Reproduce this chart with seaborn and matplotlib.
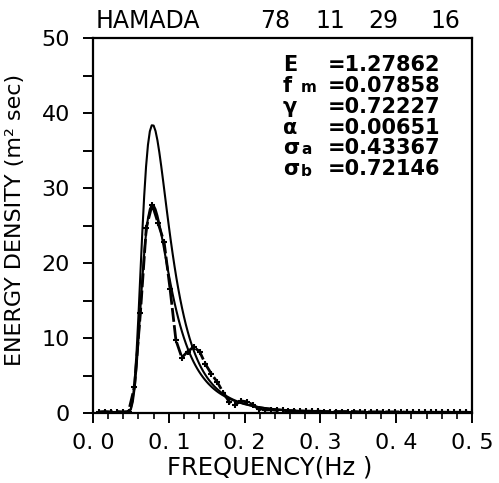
import numpy as np
import pandas as pd
import matplotlib
matplotlib.use("Agg")
import matplotlib.pyplot as plt
from matplotlib.ticker import MultipleLocator
import seaborn as sns

# observed spectrum (df = 1/128 Hz)
freq_obs = [0.0078, 0.0156, 0.0234, 0.0313, 0.0391, 0.0469, 0.0547, 0.0625,
            0.0703, 0.0781, 0.0859, 0.0938, 0.1016, 0.1094, 0.1172, 0.1250,
            0.1328, 0.1406, 0.1484, 0.1563, 0.1641, 0.1719, 0.1797, 0.1875,
            0.1953, 0.2031, 0.2109, 0.2188, 0.2266, 0.2344, 0.2422, 0.2500,
            0.2578, 0.2656, 0.2734, 0.2813, 0.2891, 0.2969, 0.3047, 0.3125,
            0.3203, 0.3281, 0.3359, 0.3438, 0.3516, 0.3594, 0.3672, 0.3750,
            0.3828, 0.3906, 0.3984, 0.4063, 0.4141, 0.4219, 0.4297, 0.4375,
            0.4453, 0.4531, 0.4609, 0.4688, 0.4766, 0.4844, 0.4922, 0.5000]
energy_obs = [0.15, 0.2, 0.15, 0.2, 0.15, 0.2, 3.5, 13.3, 24.7, 27.8,
              25.3, 22.8, 16.6, 9.7, 7.4, 8.2, 8.8, 8.2, 6.5, 5.2,
              4.1, 2.7, 1.5, 1.1, 1.6, 1.5, 1.1, 0.5, 0.4, 0.45,
              0.35, 0.35, 0.3, 0.3, 0.3, 0.25, 0.25, 0.25, 0.2, 0.2,
              0.2, 0.2, 0.2, 0.2, 0.15, 0.15, 0.15, 0.15, 0.15, 0.15,
              0.15, 0.15, 0.1, 0.1, 0.1, 0.1, 0.1, 0.1, 0.1, 0.1,
              0.1, 0.1, 0.1, 0.1]

# fitted curves (Pierson-Moskowitz type and JONSWAP type), read values
freq_fit = [0.0400, 0.0425, 0.0450, 0.0475, 0.0500, 0.0525, 0.0550, 0.0575,
            0.0600, 0.0625, 0.0650, 0.0675, 0.0700, 0.0725, 0.0750, 0.0775,
            0.0800, 0.0825, 0.0850, 0.0875, 0.0900, 0.0925, 0.0950, 0.0975,
            0.1000, 0.1025, 0.1050, 0.1075, 0.1100, 0.1125, 0.1150, 0.1175,
            0.1200, 0.1225, 0.1250, 0.1275, 0.1300, 0.1325, 0.1350, 0.1375,
            0.1400, 0.1425, 0.1450, 0.1475, 0.1500, 0.1525, 0.1550, 0.1575,
            0.1600, 0.1625, 0.1650, 0.1675, 0.1700, 0.1725, 0.1750, 0.1775,
            0.1800, 0.1825, 0.1850, 0.1875, 0.1900, 0.1925, 0.1950, 0.1975,
            0.2000, 0.2100, 0.2200, 0.2300, 0.2400, 0.2500, 0.2600, 0.2700,
            0.2800, 0.2900, 0.3000, 0.3100, 0.3200, 0.3300, 0.3400, 0.3500,
            0.3600, 0.3700, 0.3800, 0.3900, 0.4000, 0.4100, 0.4200, 0.4300,
            0.4400, 0.4500, 0.4600, 0.4700, 0.4800, 0.4900, 0.5000]
energy_pm = [0.00, 0.00, 0.02, 0.14, 0.63, 1.90, 4.37, 8.17, 13.07, 18.55,
             23.99, 28.88, 32.86, 35.75, 37.56, 38.36, 38.32, 37.59, 36.36, 34.76,
             32.92, 30.96, 28.94, 26.92, 24.96, 23.07, 21.28, 19.60, 18.02, 16.57,
             15.22, 13.98, 12.84, 11.79, 10.84, 9.96, 9.16, 8.43, 7.77, 7.16,
             6.60, 6.09, 5.63, 5.21, 4.82, 4.46, 4.14, 3.84, 3.56, 3.31,
             3.08, 2.87, 2.67, 2.49, 2.33, 2.17, 2.03, 1.90, 1.78, 1.67,
             1.57, 1.47, 1.38, 1.30, 1.22, 0.96, 0.76, 0.61, 0.50, 0.41,
             0.33, 0.28, 0.23, 0.19, 0.16, 0.14, 0.12, 0.10, 0.09, 0.08,
             0.07, 0.06, 0.05, 0.04, 0.04, 0.03, 0.03, 0.03, 0.02, 0.02,
             0.02, 0.02, 0.02, 0.01, 0.01]
energy_js = [0.00, 0.00, 0.02, 0.12, 0.50, 1.49, 3.38, 6.25, 9.88, 13.86,
             17.77, 21.21, 23.97, 25.96, 27.18, 27.71, 27.68, 27.17, 26.31, 25.21,
             23.94, 22.58, 21.18, 19.79, 18.44, 17.13, 15.89, 14.73, 13.64, 12.62,
             11.68, 10.81, 10.01, 9.27, 8.59, 7.96, 7.39, 6.86, 6.37, 5.92,
             5.51, 5.13, 4.78, 4.46, 4.16, 3.88, 3.63, 3.39, 3.17, 2.97,
             2.78, 2.61, 2.45, 2.30, 2.16, 2.03, 1.90, 1.79, 1.68, 1.59,
             1.49, 1.41, 1.33, 1.25, 1.18, 0.94, 0.75, 0.61, 0.49, 0.41,
             0.33, 0.28, 0.23, 0.19, 0.16, 0.14, 0.12, 0.10, 0.09, 0.08,
             0.07, 0.06, 0.05, 0.04, 0.04, 0.03, 0.03, 0.03, 0.02, 0.02,
             0.02, 0.02, 0.02, 0.01, 0.01]

param_syms = ["E", "f", "γ", "α", "σ", "σ"]
param_subs = ["", "m", "", "", "a", "b"]
param_vals = ["=1.27862", "=0.07858", "=0.72227", "=0.00651", "=0.43367", "=0.72146"]
title_station = "HAMADA"
title_date = ["78", "11", "29", "16"]
xtick_vals = [0.0, 0.1, 0.2, 0.3, 0.4, 0.5]
xtick_labels = ["0. 0", "0. 1", "0. 2", "0. 3", "0. 4", "0. 5"]
ytick_vals = [0, 10, 20, 30, 40, 50]
ytick_labels = ["0", "10", "20", "30", "40", "50"]

df_fit = pd.DataFrame({"f": freq_fit, "pm": energy_pm, "js": energy_js})
df_obs = pd.DataFrame({"f": freq_obs, "e": energy_obs})

sns.set_style("ticks")
plt.rcParams['font.family'] = ['DejaVu Sans']
plt.rcParams.update({'text.color': 'black', 'axes.edgecolor': 'black',
                     'xtick.color': 'black', 'ytick.color': 'black',
                     'axes.labelcolor': 'black'})

W, H = 499, 483
fig = plt.figure(figsize=(W/100, H/100), dpi=100)
ax = fig.add_axes([93/W, 1-413/H, (472-93)/W, (413-38)/H])

sns.lineplot(data=df_fit, x="f", y="pm", ax=ax, color='black', lw=1.5)
sns.lineplot(data=df_fit, x="f", y="js", ax=ax, color='black', lw=1.5)
sns.lineplot(data=df_obs, x="f", y="e", ax=ax, color='black', lw=2.0,
             marker='+', markersize=5, markeredgewidth=1.5,
             markeredgecolor='black', linestyle=(0, (5, 1.2)))

ax.set_xlim(0, 0.5)
ax.set_ylim(0, 50)
ax.set_xticks(xtick_vals)
ax.set_xticklabels(xtick_labels, fontsize=16)
ax.xaxis.set_minor_locator(MultipleLocator(0.02))
ax.set_yticks(ytick_vals)
ax.set_yticklabels(ytick_labels, fontsize=16)
ax.yaxis.set_minor_locator(MultipleLocator(5))
ax.tick_params(axis='x', which='major', direction='out', length=7.5, width=1.4, pad=7,
               colors='black')
ax.tick_params(axis='x', which='minor', direction='out', length=4, width=1.2,
               colors='black')
ax.tick_params(axis='y', which='both', direction='out', length=7.5, width=1.4, pad=9,
               colors='black')
for s in ax.spines.values():
    s.set_linewidth(1.6)
    s.set_color('black')
ax.set_xlabel("")
ax.set_ylabel("")

def px(x, y):
    return x / W, 1 - y / H

fig.text(*px(270, 467), "FREQUENCY(Hz )", fontsize=17.5, ha='center', va='center')
fig.text(*px(15, 220), "ENERGY DENSITY (m² sec)", fontsize=16, ha='center',
         va='center', rotation=90)
fig.text(*px(148, 21), title_station, fontsize=17, ha='center', va='center')
for xc, s in zip([275, 330, 383, 445], title_date):
    fig.text(*px(xc, 21), s, fontsize=17, ha='center', va='center')

rows = [65, 86, 107, 128, 148, 169]
for yc, sym, sub, val in zip(rows, param_syms, param_subs, param_vals):
    fig.text(*px(283, yc), sym, fontsize=15, fontweight='bold', ha='left', va='center')
    if sub:
        fig.text(*px(301, yc + 2), sub, fontsize=11, fontweight='bold',
                 ha='left', va='center')
    fig.text(*px(384, yc), val, fontsize=15, fontweight='bold',
             ha='center', va='center')

fig.savefig("out.png", dpi=100)
